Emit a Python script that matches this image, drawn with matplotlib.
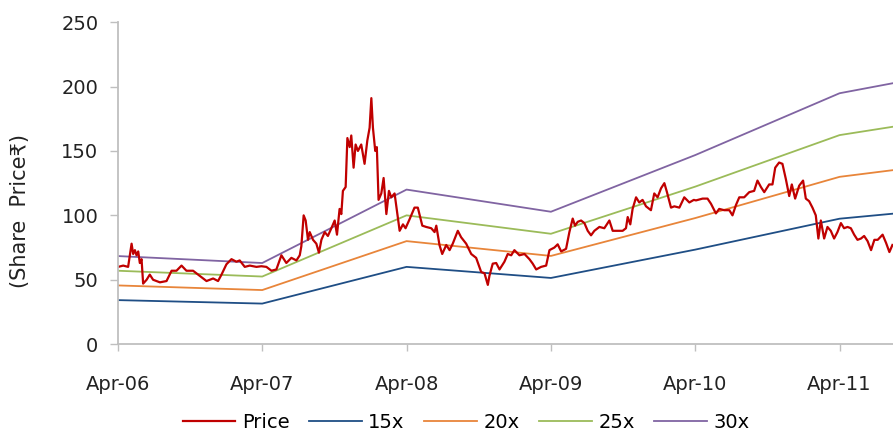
import numpy as np
import matplotlib
matplotlib.use("Agg")
import matplotlib.pyplot as plt

# time axis in decimal years (Apr-06 = 2006.25)
tick_pos = [2006.25, 2007.25, 2008.25, 2009.25, 2010.25, 2011.25]
tick_lab = ["Apr-06", "Apr-07", "Apr-08", "Apr-09", "Apr-10", "Apr-11"]

# PE band lines
band_t = [2006.25, 2007.25, 2008.25, 2009.25, 2010.25, 2011.25, 2011.62]
pe15 = [34.2, 31.5, 60.0, 51.4, 73.4, 97.4, 101.3]
pe20 = [45.6, 42.0, 80.0, 68.5, 97.9, 129.9, 135.1]
pe25 = [57.0, 52.5, 100.0, 85.7, 122.3, 162.3, 168.8]
pe30 = [68.4, 63.0, 120.0, 102.8, 146.8, 194.8, 202.6]

# share price
price_t = [
    2006.252, 2006.287, 2006.321, 2006.345, 2006.356, 2006.368, 2006.379, 2006.391,
    2006.402, 2006.414, 2006.425, 2006.449, 2006.471, 2006.494, 2006.541, 2006.587,
    2006.622, 2006.656, 2006.691, 2006.725, 2006.771, 2006.817, 2006.864, 2006.910,
    2006.944, 2006.968, 2007.002, 2007.037, 2007.071, 2007.094, 2007.129, 2007.164,
    2007.210, 2007.244, 2007.279, 2007.314, 2007.348, 2007.383, 2007.417, 2007.452,
    2007.487, 2007.510, 2007.521, 2007.537, 2007.551, 2007.567, 2007.579, 2007.602,
    2007.625, 2007.643, 2007.660, 2007.683, 2007.705, 2007.729, 2007.752, 2007.768,
    2007.786, 2007.798, 2007.809, 2007.828, 2007.840, 2007.856, 2007.867, 2007.883,
    2007.897, 2007.913, 2007.936, 2007.959, 2007.978, 2007.994, 2008.006, 2008.017,
    2008.033, 2008.044, 2008.056, 2008.075, 2008.091, 2008.110, 2008.128, 2008.144,
    2008.167, 2008.186, 2008.202, 2008.225, 2008.243, 2008.271, 2008.305, 2008.328,
    2008.359, 2008.386, 2008.421, 2008.444, 2008.456, 2008.478, 2008.497, 2008.525,
    2008.548, 2008.570, 2008.605, 2008.628, 2008.663, 2008.698, 2008.732, 2008.767,
    2008.790, 2008.813, 2008.824, 2008.847, 2008.871, 2008.894, 2008.928, 2008.951,
    2008.975, 2008.997, 2009.032, 2009.067, 2009.101, 2009.124, 2009.148, 2009.182,
    2009.217, 2009.240, 2009.274, 2009.297, 2009.321, 2009.355, 2009.378, 2009.401,
    2009.417, 2009.436, 2009.459, 2009.482, 2009.505, 2009.528, 2009.551, 2009.586,
    2009.620, 2009.655, 2009.678, 2009.712, 2009.747, 2009.770, 2009.782, 2009.800,
    2009.816, 2009.840, 2009.862, 2009.885, 2009.909, 2009.943, 2009.966, 2009.989,
    2010.013, 2010.036, 2010.054, 2010.082, 2010.105, 2010.140, 2010.174, 2010.209,
    2010.240, 2010.255, 2010.301, 2010.335, 2010.359, 2010.393, 2010.416, 2010.451,
    2010.486, 2010.508, 2010.532, 2010.555, 2010.589, 2010.624, 2010.658, 2010.681,
    2010.705, 2010.728, 2010.762, 2010.785, 2010.804, 2010.831, 2010.854, 2010.878,
    2010.901, 2010.919, 2010.942, 2010.970, 2010.997, 2011.016, 2011.039, 2011.062,
    2011.085, 2011.103, 2011.120, 2011.143, 2011.166, 2011.189, 2011.212, 2011.235,
    2011.259, 2011.281, 2011.305, 2011.328, 2011.351, 2011.374, 2011.398, 2011.420,
    2011.444, 2011.468, 2011.491, 2011.514, 2011.548, 2011.572, 2011.595, 2011.616,
]
price = [
    60, 61, 60, 78, 70, 73, 69, 72,
    63, 66, 47, 50, 54, 50, 48, 49,
    57, 57, 61, 57, 57, 53, 49, 51,
    49, 54, 62, 66, 64, 65, 60, 61,
    60, 60.5, 60, 57, 58, 69, 63, 67,
    65, 69, 76, 100, 96, 81, 87, 81,
    78, 71, 81, 87, 84, 90, 96, 85,
    105, 101, 119, 122, 160, 153, 162, 137,
    155, 150, 155, 140, 158, 168, 191, 168,
    150, 153, 112, 117, 129, 101, 119, 114,
    117, 101, 88, 93, 90, 97, 106, 106,
    92, 91, 90, 87, 92, 77, 70, 77,
    73, 78, 88, 83, 78, 70, 67, 56,
    55, 46, 53, 62.5, 63, 58, 64, 70,
    69, 73, 69, 70, 66, 62.5, 58, 60,
    61, 73, 75, 77.5, 72, 74, 87, 97.5,
    92, 95, 96, 94, 88, 84.5, 88, 91,
    90, 96, 88, 88, 88, 90, 98.7, 93,
    105, 114, 110, 112, 107, 104, 117, 114,
    121, 125, 118, 106, 107, 106, 114, 110,
    112, 111.6, 113, 113, 109, 101.5, 105, 104,
    104, 100, 108, 114, 114, 118, 119, 127,
    122, 118, 124, 124, 137, 141, 140, 128,
    115, 124, 113, 123, 127, 113, 111, 106,
    100, 82, 96, 82, 91, 88, 82, 87,
    94, 90, 91, 90, 85, 81, 82, 84,
    80, 73, 81, 81, 85, 78.6, 71.5, 77,
]

fig = plt.figure(figsize=(8.93, 4.34), dpi=100)
ax = fig.add_axes([0.132, 0.207, 0.868, 0.742])

l15, = ax.plot(band_t, pe15, color="#1F4E85", lw=1.3, label="15x")
l20, = ax.plot(band_t, pe20, color="#E8853A", lw=1.3, label="20x")
l25, = ax.plot(band_t, pe25, color="#9BBB59", lw=1.3, label="25x")
l30, = ax.plot(band_t, pe30, color="#8064A2", lw=1.3, label="30x")
lp, = ax.plot(price_t, price, color="#C00000", lw=1.6, label="Price")

ax.set_xlim(2006.25, 2011.62)
ax.set_ylim(0, 250)
ax.set_yticks([0, 50, 100, 150, 200, 250])
ax.set_xticks(tick_pos)
ax.set_xticklabels(tick_lab)

for s in ["top", "right"]:
    ax.spines[s].set_visible(False)
for s in ["left", "bottom"]:
    ax.spines[s].set_color("#BFBFBF")
    ax.spines[s].set_linewidth(1.3)
ax.tick_params(axis="y", direction="out", length=6, color="#BFBFBF", width=1,
               labelsize=14, pad=8, labelcolor="#222222")
ax.tick_params(axis="x", direction="out", length=5, color="#BFBFBF", width=1,
               labelsize=14, pad=17, labelcolor="#222222")

ax.set_ylabel("(Share  Price\u20b9)", fontsize=15, color="#222222")
ax.yaxis.set_label_coords(-0.114, 0.415)

fig.legend(handles=[lp, l15, l20, l25, l30], loc="lower center",
           bbox_to_anchor=(0.522, -0.035), ncol=5, frameon=False, fontsize=14,
           handlelength=2.7, handletextpad=0.35, columnspacing=1.0)

fig.savefig("out.png", dpi=100)
